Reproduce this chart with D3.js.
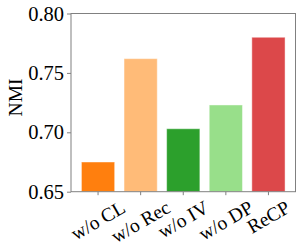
<!DOCTYPE html>
<html><head><meta charset="utf-8">
<script src="https://cdn.jsdelivr.net/npm/d3@7"></script>
<style>body{margin:0;background:#fff}svg{display:block}</style>
</head><body>
<svg id="c" width="301" height="250"></svg>
<script>
const categories = ["w/o CL", "w/o Rec", "w/o IV", "w/o DP", "ReCP"];
const values = [0.675, 0.762, 0.703, 0.723, 0.780];
const colors = ["#ff7f0e", "#ffbb78", "#2ca02c", "#98df8a", "#dc484a"];
const yTicks = [0.65, 0.70, 0.75, 0.80];
const yLabel = "NMI";

(function () {
const svg = d3.select("#c");
const L = 71, R = 295.5, T = 13.5, B = 191.7;
const font = "'Liberation Serif','Times New Roman',serif";
const spine = "#808080";

const x = d3.scaleBand().domain(categories).range([L, R]).paddingInner(0.22).paddingOuter(0.245);
const y = d3.scaleLinear().domain([0.65, 0.80]).range([B, T]);

svg.append("g").selectAll("rect").data(categories).join("rect")
  .attr("x", d => x(d)).attr("width", x.bandwidth())
  .attr("y", (d, i) => y(values[i])).attr("height", (d, i) => B - y(values[i]))
  .attr("fill", (d, i) => colors[i])
  .attr("stroke", "#fff").attr("stroke-opacity", 0.45).attr("stroke-width", 1);

svg.append("rect").attr("x", L).attr("y", T).attr("width", R - L).attr("height", B - T)
  .attr("fill", "none").attr("stroke", spine).attr("stroke-width", 1);

const ya = svg.append("g").attr("transform", `translate(${L},0)`)
  .call(d3.axisLeft(y).tickValues(yTicks).tickFormat(d3.format(".2f")).tickSize(4).tickPadding(3));
ya.select(".domain").remove();
ya.selectAll("line").attr("stroke", spine);
ya.selectAll("text").attr("font-family", font).attr("font-size", 20.5).attr("fill", "#000");

const xa = svg.append("g").attr("transform", `translate(0,${B})`)
  .call(d3.axisBottom(x).tickSize(3.5).tickFormat(""));
xa.select(".domain").remove();
xa.selectAll("line").attr("stroke", spine);

const fs = 19.5;
const labelTop = B + 6;
categories.forEach(c => {
  const t = svg.append("text").text(c)
    .attr("font-family", font).attr("font-size", fs).attr("fill", "#000")
    .attr("text-anchor", "middle").attr("dominant-baseline", "central");
  const w = t.node().getComputedTextLength();
  const cx = x(c) + x.bandwidth() / 2;
  const cy = labelTop + (w * 0.5 + fs * 0.95 * 0.866) / 2;
  t.attr("transform", `translate(${cx},${cy}) rotate(-30)`);
});

svg.append("text").text(yLabel)
  .attr("font-family", font).attr("font-size", 19.5).attr("fill", "#000")
  .attr("text-anchor", "middle").attr("dominant-baseline", "central")
  .attr("transform", `translate(15.5,97.5) rotate(-90)`);
})();
</script>
</body></html>
